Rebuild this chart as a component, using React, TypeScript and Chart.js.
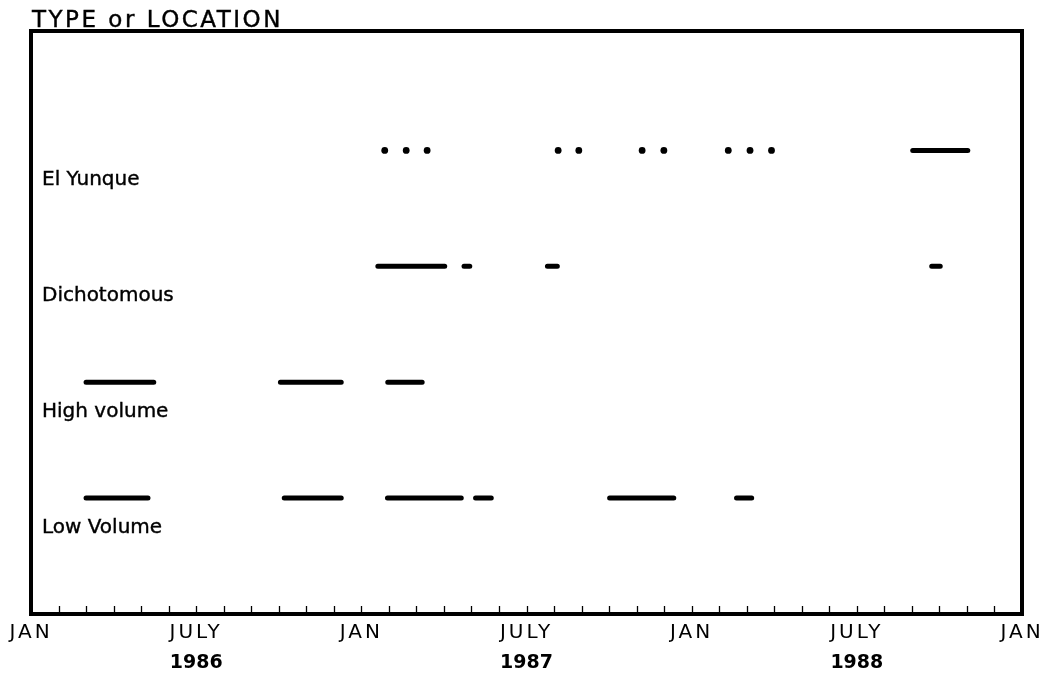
import React, { useEffect, useRef } from 'react';
import { Chart, registerables } from 'chart.js';

Chart.register(...registerables);

// Categories (bottom to top) and their levels on the y scale
const categories = ['Low Volume', 'High volume', 'Dichotomous', 'El Yunque'];
const categoryLevels = [1, 2, 3, 4];

// x axis: months since JAN 1986
const monthTickValues = [0, 6, 12, 18, 24, 30, 36];
const monthTickLabels = ['JAN', 'JULY', 'JAN', 'JULY', 'JAN', 'JULY', 'JAN'];
const yearLabelValues = [6, 18, 30];
const yearLabels = ['1986', '1987', '1988'];
const minorTickMonths = [1, 2, 3, 4, 5, 6, 7, 8, 9, 10, 11, 12, 13, 14, 15, 16, 17, 18, 19, 20, 21, 22, 23, 24, 25, 26, 27, 28, 29, 30, 31, 32, 33, 34, 35];

// Sampling periods [start, end] in months since JAN 1986
const lowVolumeSegments = [[2.0, 4.25], [9.2, 11.27], [12.95, 15.63], [16.15, 16.72], [21.02, 23.35], [25.63, 26.18]];
const highVolumeSegments = [[2.0, 4.46], [9.06, 11.27], [12.96, 14.21]];
const dichotomousSegments = [[12.6, 15.03], [15.73, 15.94], [18.76, 19.12], [32.72, 33.03]];
const elYunqueSegments = [[32.03, 34.03]];
const elYunqueDots = [12.85, 13.63, 14.39, 19.15, 19.9, 22.2, 22.99, 25.33, 26.12, 26.9];

const FONT = 'DejaVu Sans';

function segPoints(segs: number[][], level: number) {
  const pts: { x: number; y: number | null }[] = [];
  segs.forEach(([s, e]) => {
    pts.push({ x: s, y: level }, { x: e, y: level }, { x: e, y: null });
  });
  return pts;
}

const lineStyle = {
  type: 'line' as const,
  borderColor: '#000',
  borderWidth: 5,
  borderCapStyle: 'round' as const,
  pointRadius: 0,
  spanGaps: false,
  tension: 0,
  fill: false,
};

const framePlugin = {
  id: 'frame',
  beforeDraw(chart: any) {
    chart.ctx.letterSpacing = '3px';
  },
  afterDraw(chart: any) {
    const { ctx, chartArea } = chart;
    const xs = chart.scales.x;
    const ys = chart.scales.y;
    ctx.save();
    ctx.letterSpacing = '0px';
    ctx.strokeStyle = '#000';
    ctx.fillStyle = '#000';
    // frame
    ctx.lineWidth = 4;
    ctx.strokeRect(chartArea.left, chartArea.top, chartArea.right - chartArea.left, chartArea.bottom - chartArea.top);
    // minor month ticks inside
    ctx.lineWidth = 1.3;
    minorTickMonths.forEach((m) => {
      const px = Math.round(xs.getPixelForValue(m)) + 0.5;
      ctx.beginPath();
      ctx.moveTo(px, chartArea.bottom - 2);
      ctx.lineTo(px, chartArea.bottom - 8);
      ctx.stroke();
    });
    // category labels
    ctx.font = `20px "${FONT}"`;
    ctx.textAlign = 'left';
    ctx.textBaseline = 'alphabetic';
    ctx.lineWidth = 0.4;
    categories.forEach((c, i) => {
      const yb = ys.getPixelForValue(categoryLevels[i]) + 35;
      ctx.fillText(c, chartArea.left + 11, yb);
      ctx.strokeText(c, chartArea.left + 11, yb);
    });
    // year labels
    ctx.font = `bold 19px "${FONT}"`;
    ctx.textAlign = 'center';
    yearLabels.forEach((y, i) => {
      ctx.fillText(y, xs.getPixelForValue(yearLabelValues[i]), 668);
    });
    // axis title
    ctx.font = `23px "${FONT}"`;
    ctx.letterSpacing = '2.5px';
    ctx.textAlign = 'left';
    ctx.fillText('TYPE or LOCATION', chartArea.left + 1, 27);
    ctx.strokeText('TYPE or LOCATION', chartArea.left + 1, 27);
    ctx.restore();
  },
};

export default function App() {
  const ref = useRef<HTMLCanvasElement | null>(null);
  useEffect(() => {
    if (!ref.current) return;
    const chart = new Chart(ref.current, {
      type: 'line',
      data: {
        datasets: [
          { ...lineStyle, label: categories[0], data: segPoints(lowVolumeSegments, categoryLevels[0]) },
          { ...lineStyle, label: categories[1], data: segPoints(highVolumeSegments, categoryLevels[1]) },
          { ...lineStyle, label: categories[2], data: segPoints(dichotomousSegments, categoryLevels[2]) },
          { ...lineStyle, label: categories[3], data: segPoints(elYunqueSegments, categoryLevels[3]) },
          {
            type: 'scatter' as const,
            label: categories[3] + ' samples',
            data: elYunqueDots.map((x) => ({ x, y: categoryLevels[3] })),
            pointRadius: 3.4,
            pointBackgroundColor: '#000',
            pointBorderWidth: 0,
            showLine: false,
          },
        ] as any,
      },
      options: {
        animation: false,
        responsive: false,
        events: [],
        layout: { padding: { left: 31, right: 36, top: 31, bottom: 55 } },
        plugins: { legend: { display: false }, tooltip: { enabled: false }, title: { display: false } },
        scales: {
          x: {
            type: 'linear',
            min: 0,
            max: 36,
            position: 'bottom',
            grid: { display: false, drawTicks: false },
            border: { display: false },
            afterBuildTicks: (s: any) => {
              s.ticks = monthTickValues.map((v) => ({ value: v }));
            },
            afterFit: (s: any) => {
              s.height = 30;
            },
            ticks: {
              autoSkip: false,
              maxRotation: 0,
              padding: 7,
              color: '#000',
              font: { family: FONT, size: 20 },
              callback: (_v: any, i: number) => monthTickLabels[i],
            },
          },
          y: { type: 'linear', min: 0, max: 5.03, display: false },
        },
      } as any,
      plugins: [framePlugin],
    });
    return () => chart.destroy();
  }, []);
  return (
    <div style={{ position: 'absolute', left: 0, top: 0, width: 1058, height: 699, background: '#fff' }}>
      <canvas ref={ref} width={1058} height={699} style={{ width: 1058, height: 699, display: 'block' }} />
    </div>
  );
}
